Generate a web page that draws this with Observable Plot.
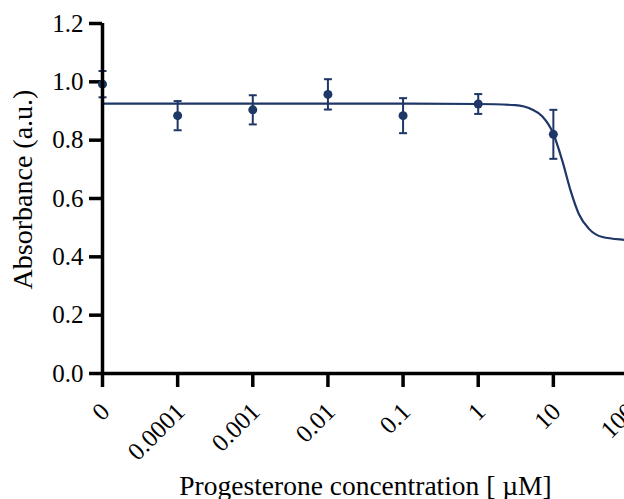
<!DOCTYPE html>
<html>
<head>
<meta charset="utf-8">
<script src="https://cdn.jsdelivr.net/npm/d3@7"></script>
<script src="https://cdn.jsdelivr.net/npm/@observablehq/plot@0.6"></script>
<style>
  html, body { margin: 0; padding: 0; background: #fff; overflow: hidden; }
  #chart { width: 624px; height: 499px; overflow: hidden; }
  #chart svg { max-width: none !important; }
</style>
</head>
<body>
<div id="chart"></div>
<script>
// Concentration positions (the "0" control is placed one decade below 0.0001)
const conc = [1e-5, 1e-4, 1e-3, 1e-2, 0.1, 1, 10, 100];
const concLabels = ["0", "0.0001", "0.001", "0.01", "0.1", "1", "10", "100"];
const meanAbs = [0.992, 0.884, 0.904, 0.957, 0.884, 0.924, 0.820, 0.457];
const sdAbs = [0.045, 0.050, 0.050, 0.052, 0.060, 0.034, 0.084, 0.072];

// Fitted dose-response curve
const curveX = [1e-5, 1e-4, 1e-3, 1e-2, 0.1, 1, 3.1, 5.2, 7.1, 10, 13.2, 17, 21.9, 30, 45, 91, 100];
const curveY = [0.925, 0.925, 0.925, 0.925, 0.925, 0.924, 0.920, 0.905, 0.882, 0.822, 0.728, 0.626, 0.546, 0.495, 0.468, 0.458, 0.457];

const yTicks = [0, 0.2, 0.4, 0.6, 0.8, 1.0, 1.2];

const color = "#1e3766";
const font = "'Liberation Serif', 'Times New Roman', serif";

const points = conc.map((x, i) => ({x, label: concLabels[i], y: meanAbs[i], lo: meanAbs[i] - sdAbs[i], hi: meanAbs[i] + sdAbs[i]}));
const curve = curveX.map((x, i) => ({x, y: curveY[i]}));

const capSymbol = {
  draw(context, size) {
    const w = Math.sqrt(size / Math.PI);
    context.moveTo(-w, 0);
    context.lineTo(w, 0);
  }
};

const chart = Plot.plot({
  width: 624,
  height: 499,
  marginLeft: 102,
  marginRight: -4,
  marginTop: 23,
  marginBottom: 126,
  style: {fontFamily: font, background: "white"},
  x: {type: "log", domain: [1e-5, 100]},
  y: {domain: [0, 1.2]},
  marks: [
    // y axis
    Plot.axisY({ticks: yTicks, tickSize: 13, tickPadding: 6, strokeWidth: 3.5, fontSize: 25, color: "black", tickFormat: d => d.toFixed(1), label: null}),
    // x axis tick marks (labels drawn separately)
    Plot.axisX({ticks: conc, tickSize: 14, strokeWidth: 3.5, color: "black", tickFormat: () => "", label: null}),
    Plot.text(conc, {x: d => d, y: 0, text: (d, i) => concLabels[i], rotate: -45, textAnchor: "end", lineAnchor: "middle", dx: 3, dy: 34, fontSize: 25, fill: "black"}),
    // curve
    Plot.line(curve, {x: "x", y: "y", stroke: color, strokeWidth: 2.2, curve: "monotone-x"}),
    // error bars
    Plot.ruleX(points, {x: "x", y1: "lo", y2: "hi", stroke: color, strokeWidth: 2}),
    Plot.dot(points, {x: "x", y: "hi", symbol: capSymbol, r: 4, stroke: color, strokeWidth: 2, fill: "none"}),
    Plot.dot(points, {x: "x", y: "lo", symbol: capSymbol, r: 4, stroke: color, strokeWidth: 2, fill: "none"}),
    Plot.dot(points, {x: "x", y: "y", r: 4.5, fill: color, stroke: "none"}),
    // axis lines
    Plot.ruleX([1e-5], {y1: 0, y2: 1.2, stroke: "black", strokeWidth: 3.5}),
    Plot.ruleY([0], {x1: 1e-5, x2: 100, stroke: "black", strokeWidth: 3.5}),
    // axis titles
    Plot.text(["Progesterone concentration [ \u00b5M]"], {frameAnchor: "bottom", dy: 121, lineAnchor: "bottom", textAnchor: "middle", fontSize: 27.5, fill: "black"}),
    Plot.text(["Absorbance (a.u.)"], {frameAnchor: "left", dx: -79, dy: -9, rotate: -90, lineAnchor: "middle", textAnchor: "middle", fontSize: 28, fill: "black"})
  ]
});

document.getElementById("chart").append(chart);
</script>
</body>
</html>
